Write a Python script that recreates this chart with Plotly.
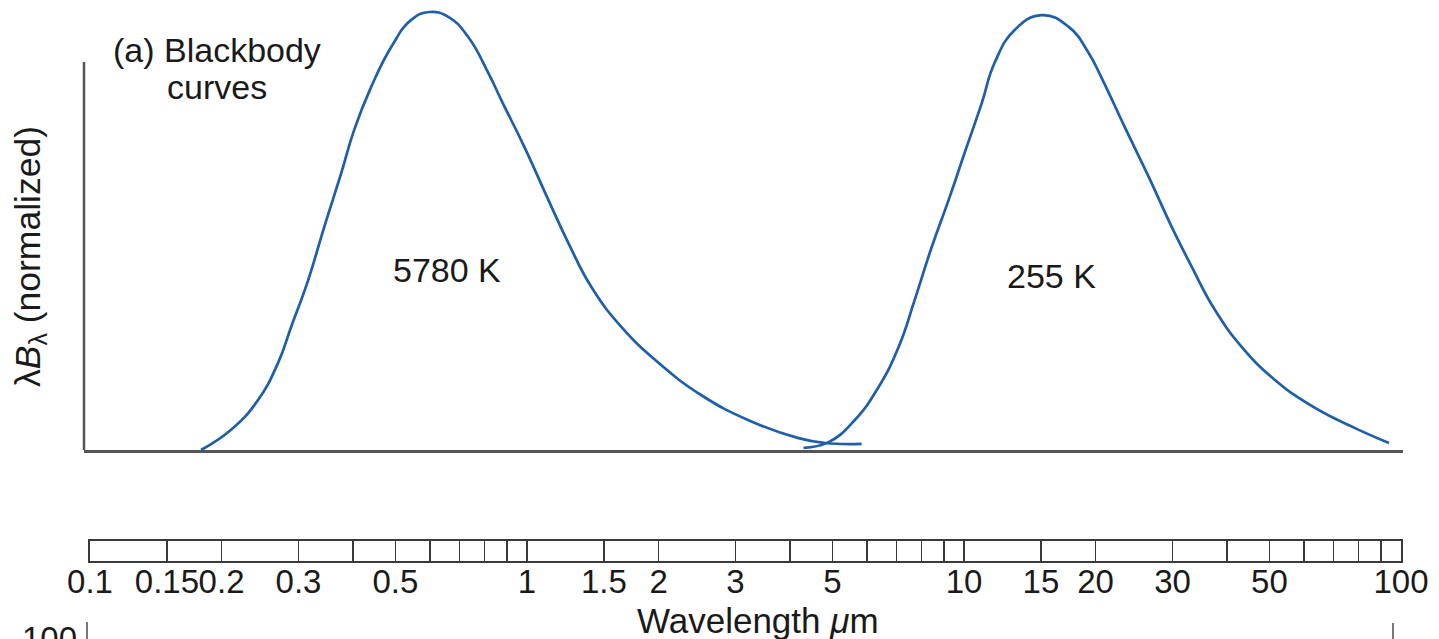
import plotly.graph_objects as go

W, H = 1439, 639

def px(x):
    return x / W

def py(y):
    return 1 - y / H

# --- data (wavelength in micrometres, normalized lambda*B_lambda) ---
wl_5780 = [0.1795, 0.2103, 0.2424, 0.2694, 0.2886, 0.3157, 0.3435, 0.3757, 0.4023, 0.4400,
           0.4890, 0.5433, 0.5974, 0.6605, 0.7337, 0.8154, 0.8733, 0.986, 1.119, 1.243,
           1.404, 1.644, 1.999, 2.507, 3.213, 4.182, 4.797, 5.831]
bb_5780 = [0.0, 0.046, 0.114, 0.199, 0.281, 0.388, 0.509, 0.632, 0.731, 0.829,
           0.920, 0.982, 1.0, 0.989, 0.943, 0.861, 0.799, 0.692, 0.571, 0.473,
           0.372, 0.281, 0.199, 0.125, 0.068, 0.027, 0.016, 0.014]

wl_255 = [4.294, 4.899, 5.619, 6.377, 7.085, 7.709, 8.433, 9.224, 10.03, 10.98,
          11.75, 13.06, 15.06, 17.37, 19.30, 20.66, 23.33, 26.48, 29.89, 33.21,
          37.50, 43.24, 51.45, 63.56, 78.48, 93.86]
bb_255 = [0.005, 0.018, 0.068, 0.144, 0.235, 0.342, 0.463, 0.571, 0.678, 0.792,
          0.884, 0.959, 0.993, 0.966, 0.906, 0.849, 0.737, 0.623, 0.509, 0.418,
          0.320, 0.235, 0.160, 0.096, 0.050, 0.016]

ruler_major = [0.1, 0.15, 0.2, 0.3, 0.5, 1, 1.5, 2, 3, 5, 10, 15, 20, 30, 50, 100]
ruler_labels = ["0.1", "0.15", "0.2", "0.3", "0.5", "1", "1.5", "2", "3", "5",
                "10", "15", "20", "30", "50", "100"]
ruler_minor = [0.4, 0.6, 0.7, 0.8, 0.9, 4, 6, 7, 8, 9, 40, 60, 70, 80, 90]

curve_labels = ["5780 K", "255 K"]

# --- styles ---
CURVE = "#1f5ea8"
AXIS = "#555555"
RULER = "#3a3a3a"
TXT = "#1a1a1a"
FONT = "Arial, 'Liberation Sans', sans-serif"
FS = 34

fig = go.Figure()

for xs, ys in [(wl_5780, bb_5780), (wl_255, bb_255)]:
    fig.add_trace(go.Scatter(
        x=xs, y=ys, mode="lines",
        line=dict(color=CURVE, width=2.7, shape="spline", smoothing=1.3),
        hoverinfo="skip", xaxis="x", yaxis="y"))

# invisible trace to anchor the ruler subplot
fig.add_trace(go.Scatter(
    x=ruler_major, y=[0.5] * len(ruler_major), mode="markers",
    marker=dict(opacity=0), hoverinfo="skip", xaxis="x2", yaxis="y2"))

# ruler: 0.1 at x=90px, 100 at x=1401px; main axis uses the same log scale
R0, R1 = 90, 1401
dec = (R1 - R0) / 3.0
x_lo = -1 + (84 - R0) / dec
x_hi = -1 + (1403 - R0) / dec

fig.update_layout(
    template="none",
    width=W, height=H,
    autosize=False,
    margin=dict(l=0, r=0, t=0, b=0, pad=0),
    paper_bgcolor="white", plot_bgcolor="white",
    showlegend=False,
    font=dict(family=FONT, size=FS, color=TXT),
    xaxis=dict(type="log", range=[x_lo, x_hi], domain=[px(84), px(1403)],
               showline=True, linecolor=AXIS, linewidth=2.5, automargin=False,
               showgrid=False, zeroline=False, ticks="", showticklabels=False,
               anchor="y"),
    yaxis=dict(range=[0, (450 - 5) / 438], domain=[py(450), py(5)], automargin=False,
               showline=False, showgrid=False, zeroline=False,
               ticks="", showticklabels=False, anchor="x"),
    xaxis2=dict(type="log", range=[-1, 2], domain=[px(R0), px(R1)], automargin=False,
                anchor="y2", showline=True, mirror=True, linecolor=RULER, linewidth=1.6,
                tickvals=ruler_major, ticktext=ruler_labels, ticks="", tickangle=0,
                ticklabelstandoff=-9,
                tickfont=dict(family=FONT, size=33, color=TXT),
                showgrid=True, gridcolor=RULER, gridwidth=1.4, zeroline=False,
                minor=dict(tickvals=ruler_minor, showgrid=True,
                           gridcolor=RULER, gridwidth=1.4, ticks="")),
    yaxis2=dict(range=[0, 1], domain=[py(561), py(541)], anchor="x2", automargin=False,
                showline=True, mirror=True, linecolor=RULER, linewidth=1.6,
                showgrid=False, zeroline=False, ticks="", showticklabels=False),
)

# left axis line (shorter than the curves' extent)
fig.add_shape(type="line", xref="paper", yref="y",
              x0=px(84), x1=px(84), y0=0, y1=(450 - 62) / 438,
              line=dict(color=AXIS, width=2.5))

# cropped bits of the next panel at the bottom edge
fig.add_shape(type="line", xref="paper", yref="paper",
              x0=px(87), x1=px(87), y0=py(622), y1=py(645),
              line=dict(color=AXIS, width=1.6))
fig.add_shape(type="line", xref="paper", yref="paper",
              x0=px(1393), x1=px(1393), y0=py(623), y1=py(645),
              line=dict(color=AXIS, width=1.6))

ann = [
    dict(text="(a) Blackbody", x=px(217), y=py(50), size=34),
    dict(text="curves", x=px(217), y=py(87), size=34),
    dict(text=curve_labels[0], x=px(447), y=py(270), size=34),
    dict(text=curve_labels[1], x=px(1051), y=py(276), size=34),
    dict(text="λ<i>B</i><sub>λ</sub> (normalized)", x=px(30), y=py(257), size=35.5,
         textangle=-90),
    dict(text="Wavelength <i>μ</i>m", x=px(758), y=py(620), size=35),
]
for a in ann:
    size = a.pop("size")
    fig.add_annotation(xref="paper", yref="paper", showarrow=False,
                       xanchor="center", yanchor="middle",
                       font=dict(family=FONT, size=size, color=TXT), **a)

fig.add_annotation(text="100", xref="paper", yref="paper", x=px(79), y=py(618),
                   xanchor="right", yanchor="top", showarrow=False,
                   font=dict(family=FONT, size=33, color=TXT))

fig.write_html("out.html",
               config={"displayModeBar": False, "staticPlot": True},
               post_script="document.body.style.margin='0';"
                           "document.body.style.overflow='hidden';")
